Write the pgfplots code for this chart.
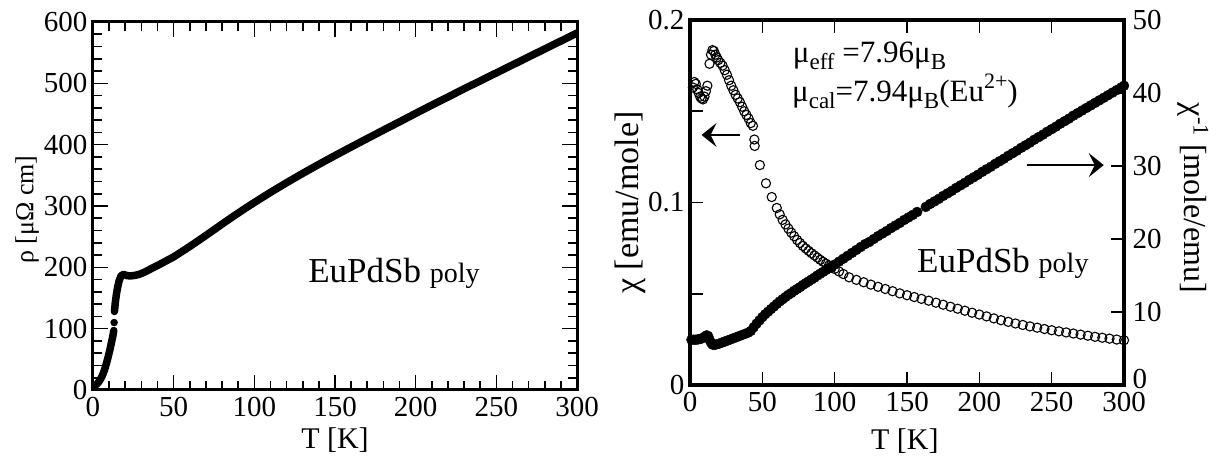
\documentclass[border=0pt]{standalone}
\usepackage{fontspec}
\setmainfont{Liberation Serif}
\usepackage{pgfplots}
\pgfplotsset{compat=1.18}
\usetikzlibrary{arrows.meta}
\newcommand\fs[1]{\fontsize{#1}{#1}\selectfont}
\newcommand\mysub[1]{\raisebox{-7pt}{\fs{23}#1}}
\newcommand\mysup[1]{\raisebox{13pt}{\fs{22}#1}}

\begin{document}
\begin{tikzpicture}[x=1pt,y=1pt]
\path[use as bounding box] (0,0) rectangle (1227,466);
% ---------------- left panel ----------------
\begin{axis}[
  at={(93pt,76pt)}, anchor=south west, scale only axis,
  width=484pt, height=368pt,
  xmin=0, xmax=300, ymin=0, ymax=600,
  xtick={0,50,...,300}, minor x tick num=4,
  ytick={0,100,...,600}, minor y tick num=4,
  tick align=inside, major tick length=15pt, minor tick length=9pt,
  tick style={black, line width=1.6pt},
  axis line style={line width=3pt},
  /pgf/number format/assume math mode=true,
  tick label style={font=\fs{29}},
  xticklabel style={yshift=-4pt},
  yticklabel style={xshift=-2pt},
  xlabel={T [K]}, ylabel={ρ [μΩ cm]},
  every axis x label/.style={at={(axis description cs:0.5,-0.135)}, anchor=center, font=\fs{30}},
  every axis y label/.style={at={(axis description cs:-0.136,0.49)}, anchor=center, rotate=90, font=\fs{26}},
]
\addplot[black, line width=7.5pt, line join=round, line cap=round] table {
1.5 8
2.5 10
3.5 13
4.5 17
5.5 22
6.5 28
7.5 36
8.5 45
9.5 55
10.5 66
11.5 78
12.3 88
12.9 97
};
\addplot[only marks, mark=*, mark size=3.5pt, black] table {
13.1 110
};
\addplot[black, line width=7.5pt, line join=round, line cap=round] table {
13.3 128
13.8 142
14.5 156
15.3 168
16.2 178
17.2 185
18.2 188
19.5 188
21 186.5
23 186
25 186.5
28 188
31 191
34 195
37 199
40 203
45 210
50 217
55 225.5
60 234
65 243
70 252
75 261.2
80 270.5
85 279.6
90 288.5
95 297.2
100 305.7
110 322.2
120 338
130 353.2
140 367.9
150 382.2
160 396.2
170 410
180 423.7
190 437.2
200 451
210 464.5
220 477.7
230 491
240 504
250 517
260 530
270 543
280 556
290 569
300 582
};
\node[anchor=base west, inner sep=0pt] at (axis cs:133.3,174.5) {\fs{35}EuPdSb \fs{28}poly};
\end{axis}

% ---------------- right panel: chi ----------------
\begin{axis}[
  at={(690pt,81pt)}, anchor=south west, scale only axis,
  width=434pt, height=365pt,
  xmin=0, xmax=300, ymin=0, ymax=0.2,
  xtick={0,50,...,300},
  ytick={0,0.05,0.1,0.15,0.2}, yticklabels={0,{},0.1,{},0.2},
  ytick pos=left, xtick pos=both,
  tick align=inside, major tick length=13pt,
  tick style={black, line width=1.6pt},
  axis line style={line width=3.5pt},
  /pgf/number format/assume math mode=true,
  tick label style={font=\fs{29}},
  xticklabel style={yshift=-4pt},
  yticklabel style={xshift=-2pt},
  xlabel={T [K]}, ylabel={χ [emu/mole]},
  every axis x label/.style={at={(axis description cs:0.495,-0.155)}, anchor=center, font=\fs{30}},
  every axis y label/.style={at={(axis description cs:-0.138,0.5)}, anchor=center, rotate=90, font=\fs{34}},
]
\addplot[only marks, mark=o, mark size=4.6pt, mark options={line width=1.1pt}, black] table {
2 0.163
3 0.166
4 0.165
5 0.162
6 0.160
7 0.158
8 0.157
9 0.1565
10 0.158
11 0.161
12 0.164
13.5 0.176
14.5 0.181
15.5 0.1835
16.5 0.183
17.5 0.181
18.5 0.1795
19.5 0.178
21 0.1765
22.5 0.175
24 0.1725
25.5 0.170
27 0.167
28.5 0.164
30 0.1615
31.5 0.159
33 0.157
34.5 0.155
36 0.1525
37.5 0.150
39 0.148
40.5 0.146
42 0.1435
43.5 0.142
44.5 0.1345
44.7 0.131
48.3 0.1205
52.5 0.1105
56.5 0.103
60 0.097
62 0.0935
64 0.0905
66 0.088
68 0.0857
70 0.0835
72 0.0815
74 0.0795
76 0.0778
78 0.0762
80 0.0748
82 0.0735
84 0.0722
86 0.071
88 0.0698
90 0.0686
92 0.0675
94 0.0665
96 0.0655
98 0.0645
100 0.0636
103 0.0622
106 0.0608
110 0.0590
115 0.0576
120 0.0563
125 0.0550
130 0.0538
135 0.0526
140 0.0514
145 0.0502
150 0.0492
155 0.0482
160 0.0472
165 0.0462
170 0.0451
175 0.0440
180 0.0429
185 0.0418
190 0.0407
195 0.0396
200 0.0386
205 0.0376
210 0.0365
215 0.0355
220 0.0346
225 0.0337
230 0.0329
235 0.0321
240 0.0314
245 0.0307
250 0.0300
255 0.0294
260 0.0288
265 0.0282
270 0.0276
275 0.0270
280 0.0264
285 0.0259
290 0.0254
295 0.0249
300 0.0245
};
\draw[-{Stealth[length=15pt,width=24pt,inset=6pt]}, line width=1.8pt] (axis cs:34.6,0.137) -- (axis cs:8,0.137);
\draw[-{Stealth[length=15pt,width=24pt,inset=6pt]}, line width=1.8pt] (axis cs:232.7,0.1205) -- (axis cs:286,0.1205);
\node[anchor=base west, inner sep=0pt, font=\fs{31}] at (axis cs:71,0.1769) {μ\mysub{eff} =7.96μ\mysub{B}};
\node[anchor=base west, inner sep=0pt, font=\fs{31}] at (axis cs:70.5,0.1552) {μ\mysub{cal}=7.94μ\mysub{B}(Eu\mysup{2+})};
\node[anchor=base west, inner sep=0pt] at (axis cs:156.9,0.0614) {\fs{35}EuPdSb \fs{28}poly};
\end{axis}

% ---------------- right panel: 1/chi ----------------
\begin{axis}[
  at={(690pt,81pt)}, anchor=south west, scale only axis,
  width=434pt, height=365pt,
  xmin=0, xmax=300, ymin=0, ymax=50,
  axis x line=none, axis y line*=right,
  ytick={0,10,...,50}, yticklabels={\raisebox{12pt}{0},10,20,30,40,50},
  tick align=inside, major tick length=13pt,
  tick style={black, line width=1.6pt},
  axis line style={-, line width=3.5pt},
  /pgf/number format/assume math mode=true,
  tick label style={font=\fs{29}},
  yticklabel style={xshift=5pt},
  ylabel={χ\textsuperscript{-1} [mole/emu]},
  every axis y label/.style={at={(axis description cs:1.159,0.512)}, anchor=center, rotate=-90, font=\fs{32}},
]
\addplot[only marks, mark=*, mark size=5pt, black] table {
1 6.2
2.5 6.2
4 6.2
5.5 6.25
7 6.3
8.5 6.4
10 6.6
11.5 6.8
12.5 6.7
13.5 6.2
14.5 5.8
15.5 5.55
16.5 5.5
18 5.55
20 5.65
22 5.8
24 5.95
26 6.1
28 6.25
30 6.4
32 6.55
34 6.7
36 6.85
38 7.0
40 7.15
42 7.4
44 7.9
46 8.4
48 8.85
50 9.3
52 9.7
54 10.05
56 10.4
58 10.75
60 11.1
62 11.45
64 11.75
66 12.05
68 12.35
70 12.6
72 12.9
74 13.15
76 13.4
78 13.7
80 13.95
82 14.2
84 14.45
86 14.7
88 15.0
90 15.25
92 15.5
94 15.75
96 16.0
98 16.25
100 16.5
103 16.9
106 17.3
109 17.7
112 18.1
115 18.5
118 18.9
121 19.3
124 19.6
127 20.0
130 20.4
133 20.75
136 21.1
139 21.5
142 21.85
145 22.2
148 22.6
151 22.95
154 23.3
157 23.7
163 24.4
166 24.8
169 25.15
172 25.5
175 25.9
178 26.25
181 26.6
184 27.0
187 27.35
190 27.7
193 28.1
196 28.45
199 28.8
202 29.2
205 29.55
208 29.9
211 30.3
214 30.65
217 31.0
220 31.4
223 31.75
226 32.1
229 32.5
232 32.85
235 33.2
238 33.6
241 33.95
244 34.3
247 34.7
250 35.05
253 35.4
256 35.8
259 36.15
262 36.5
265 36.9
268 37.25
271 37.6
274 37.95
277 38.3
280 38.65
283 39.0
286 39.35
289 39.7
292 40.05
295 40.4
298 40.75
300 41.0
};
\end{axis}
\end{tikzpicture}
\end{document}
